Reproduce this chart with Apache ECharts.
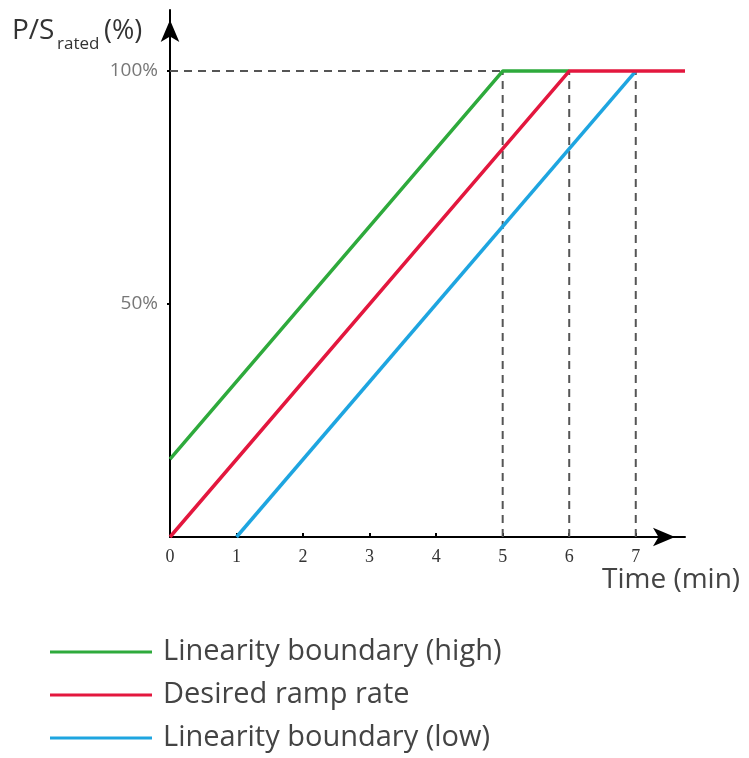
<!DOCTYPE html>
<html>
<head>
<meta charset="utf-8">
<script src="https://cdn.jsdelivr.net/npm/echarts@6/dist/echarts.min.js"></script>
<style>html,body{margin:0;padding:0;background:#fff}#c{width:749px;height:758px}</style>
</head>
<body>
<div id="c"></div>
<script>
// Data
const xTickValues = [0, 1, 2, 3, 4, 5, 6, 7];
const yTickValues = [50, 100];
const highBoundary = [[0, 16.7], [5, 100], [6, 100]];
const desiredRamp = [[0, 0], [6, 100], [7.74, 100]];
const lowBoundary = [[1, 0], [7, 100]];
const guideTimes = [5, 6, 7];
const guideLevel = 100;
const seriesNames = ['Linearity boundary (high)', 'Desired ramp rate', 'Linearity boundary (low)'];

const chart = echarts.init(document.getElementById('c'));
const dashStyle = { color: '#555', width: 2, type: [8, 6] };
const guideSeries = [];
guideSeries.push({
  type: 'line', data: [[0, guideLevel], [guideTimes[0], guideLevel]], symbol: 'none', silent: true,
  lineStyle: dashStyle, z: 1
});
guideTimes.forEach(t => guideSeries.push({
  type: 'line', data: [[t, 0], [t, guideLevel]], symbol: 'none', silent: true,
  lineStyle: dashStyle, z: 1
}));

const colors = ['#2eaa3c', '#e3173e', '#1ea5e0'];
chart.setOption({
  animation: false,
  grid: { left: 170, right: 64, top: 10, bottom: 221 },
  legend: {
    orient: 'vertical', left: 50, top: 635, bottom: 0, padding: 0,
    icon: 'rect', itemWidth: 102, itemHeight: 3, itemGap: 9,
    data: seriesNames,
    textStyle: { fontFamily: 'Open Sans', fontSize: 29, color: '#444', lineHeight: 34, padding: [0, 0, 0, 6] }
  },
  xAxis: {
    type: 'value', min: 0, max: 7.74, interval: 1,
    splitLine: { show: false },
    axisLine: { lineStyle: { color: '#000', width: 2 }, symbol: ['none', 'arrow'], symbolSize: [14, 22], symbolOffset: [0, -10] },
    axisTick: { show: true, inside: true, length: 4, lineStyle: { color: '#000', width: 2 }, customValues: xTickValues.slice(1) },
    axisLabel: { customValues: xTickValues, fontFamily: 'Liberation Serif', fontSize: 18, color: '#333', margin: 11 }
  },
  yAxis: {
    type: 'value', min: 0, max: 113.1, interval: 50,
    splitLine: { show: false },
    axisLine: { lineStyle: { color: '#000', width: 2 }, symbol: ['none', 'arrow'], symbolSize: [14, 22], symbolOffset: [0, -10] },
    axisTick: { show: true, length: 3, lineStyle: { color: '#000', width: 2 }, customValues: yTickValues },
    axisLabel: { customValues: yTickValues, formatter: v => v + '%', fontFamily: 'Open Sans', fontSize: 19, color: '#777', margin: 12 }
  },
  graphic: [
    { type: 'text', left: 12, top: 17, style: { text: 'P/S', font: '28px "Open Sans"', fill: '#333' } },
    { type: 'text', left: 57, top: 36, style: { text: 'rated', font: '17px "Open Sans"', fill: '#333' } },
    { type: 'text', left: 104, top: 18, style: { text: '(%)', font: '27px "Open Sans"', fill: '#333' } },
    { type: 'text', left: 602, top: 566, style: { text: 'Time (min)', font: '28px "Open Sans"', fill: '#444' } }
  ],
  series: guideSeries.concat([
    { name: seriesNames[0], type: 'line', data: highBoundary, symbol: 'none', color: colors[0], lineStyle: { width: 3.5 }, z: 3 },
    { name: seriesNames[2], type: 'line', data: lowBoundary, symbol: 'none', color: colors[2], lineStyle: { width: 3.5 }, z: 3 },
    { name: seriesNames[1], type: 'line', data: desiredRamp, symbol: 'none', color: colors[1], lineStyle: { width: 3.5 }, z: 4, clip: false }
  ])
});
</script>
</body>
</html>
